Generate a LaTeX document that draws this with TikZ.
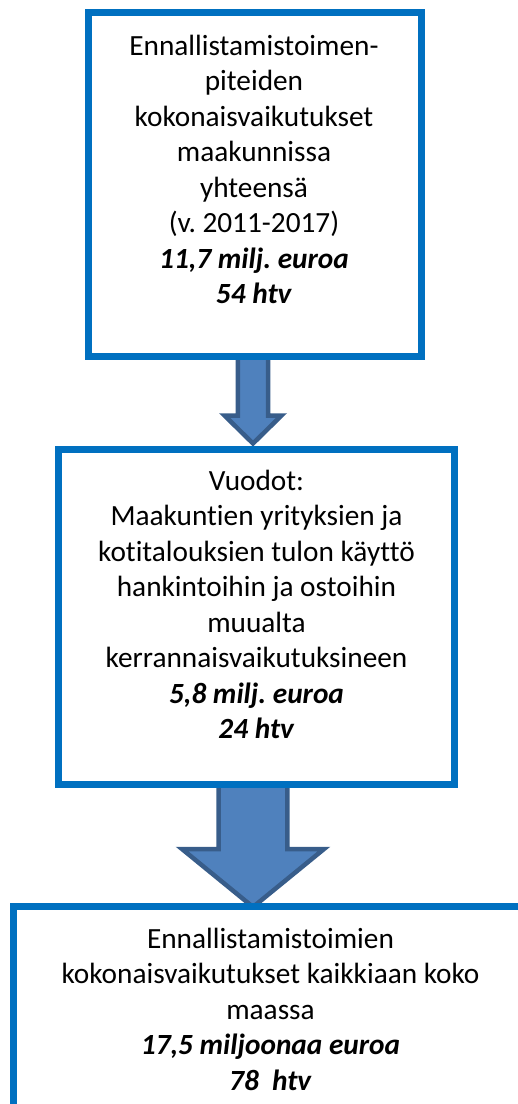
\documentclass[tikz,border=0pt]{standalone}
\usepackage{fontspec}
\setmainfont{Carlito}[Ligatures={TeX,NoCommon}]
\frenchspacing
\usetikzlibrary{calc}
\definecolor{boxblue}{HTML}{0070C0}
\definecolor{arrowfill}{HTML}{4F81BD}
\definecolor{arrowline}{HTML}{385D8A}
\tikzset{
  flowbox/.style={draw=boxblue, line width=6.5pt, fill=none, rectangle, inner sep=0pt, outer sep=0pt},
  boxtext/.style={anchor=north, align=center, inner sep=0pt, font=\fontsize{29.3}{35.5}\selectfont},
  blockarrow/.style={fill=arrowfill, draw=arrowline, line width=4.5pt, line join=miter},
}
\newcommand{\firststrut}{\rule{0pt}{25pt}}
\begin{document}
\begin{tikzpicture}[x=1pt, y=-1pt]
\path[use as bounding box, clip] (0,0) rectangle (518,1104);
% boxes (as named nodes, drawn later on top of the arrows)
\path (255,184.5) node[minimum width=333pt, minimum height=344pt, inner sep=0pt, outer sep=0pt] (b1) {};
\path (256.5,617) node[minimum width=396pt, minimum height=335pt, inner sep=0pt, outer sep=0pt] (b2) {};
\path (271,1018.25) node[minimum width=515pt, minimum height=223.5pt, inner sep=0pt, outer sep=0pt] (b3) {};
% block arrows from box to box
\path (b1.south) ++(-2,0) coordinate (a1s);
\draw[blockarrow] ($(a1s)+(-15.2,0)$) -- ($(a1s)+(15.2,0)$) -- ($(a1s)+(15.2,59)$) -- ($(a1s)+(28.5,59)$)
  -- ($(a1s)+(0,87)$) -- ($(a1s)+(-28.5,59)$) -- ($(a1s)+(-15.2,59)$) -- cycle;
\path (b2.south) ++(-3.5,0) coordinate (a2s);
\draw[blockarrow] ($(a2s)+(-34.3,0)$) -- ($(a2s)+(34.3,0)$) -- ($(a2s)+(34.3,64.5)$) -- ($(a2s)+(71,64.5)$)
  -- ($(a2s)+(0,122.5)$) -- ($(a2s)+(-71,64.5)$) -- ($(a2s)+(-34.3,64.5)$) -- cycle;
% box borders
\draw[flowbox] (b1.north west) rectangle (b1.south east);
\draw[flowbox] (b2.north west) rectangle (b2.south east);
\draw[flowbox] (b3.north west) rectangle (b3.south east);
% texts
\node[boxtext] (t1) at (254,30) {\firststrut Ennallistamistoimen-\\piteiden\\kokonaisvaikutukset\\maakunnissa\\yhteensä\\(v. 2011-2017)\\\textbf{\textit{11,7 milj. euroa}}\\\textbf{\textit{54 htv}}};
\node[boxtext] (t2) at (256.5,465) {\firststrut Vuodot:\\Maakuntien yrityksien ja\\kotitalouksien tulon käyttö\\hankintoihin ja ostoihin\\muualta\\kerrannaisvaikutuksineen\\\textbf{\textit{5,8 milj. euroa}}\\\textbf{\textit{24 htv}}};
\node[boxtext] (t3) at (270.5,923) {\firststrut Ennallistamistoimien\\kokonaisvaikutukset kaikkiaan koko\\maassa\\\textbf{\textit{17,5 miljoonaa euroa}}\\\textbf{\textit{78\ \ htv}}};
\end{tikzpicture}
\end{document}
